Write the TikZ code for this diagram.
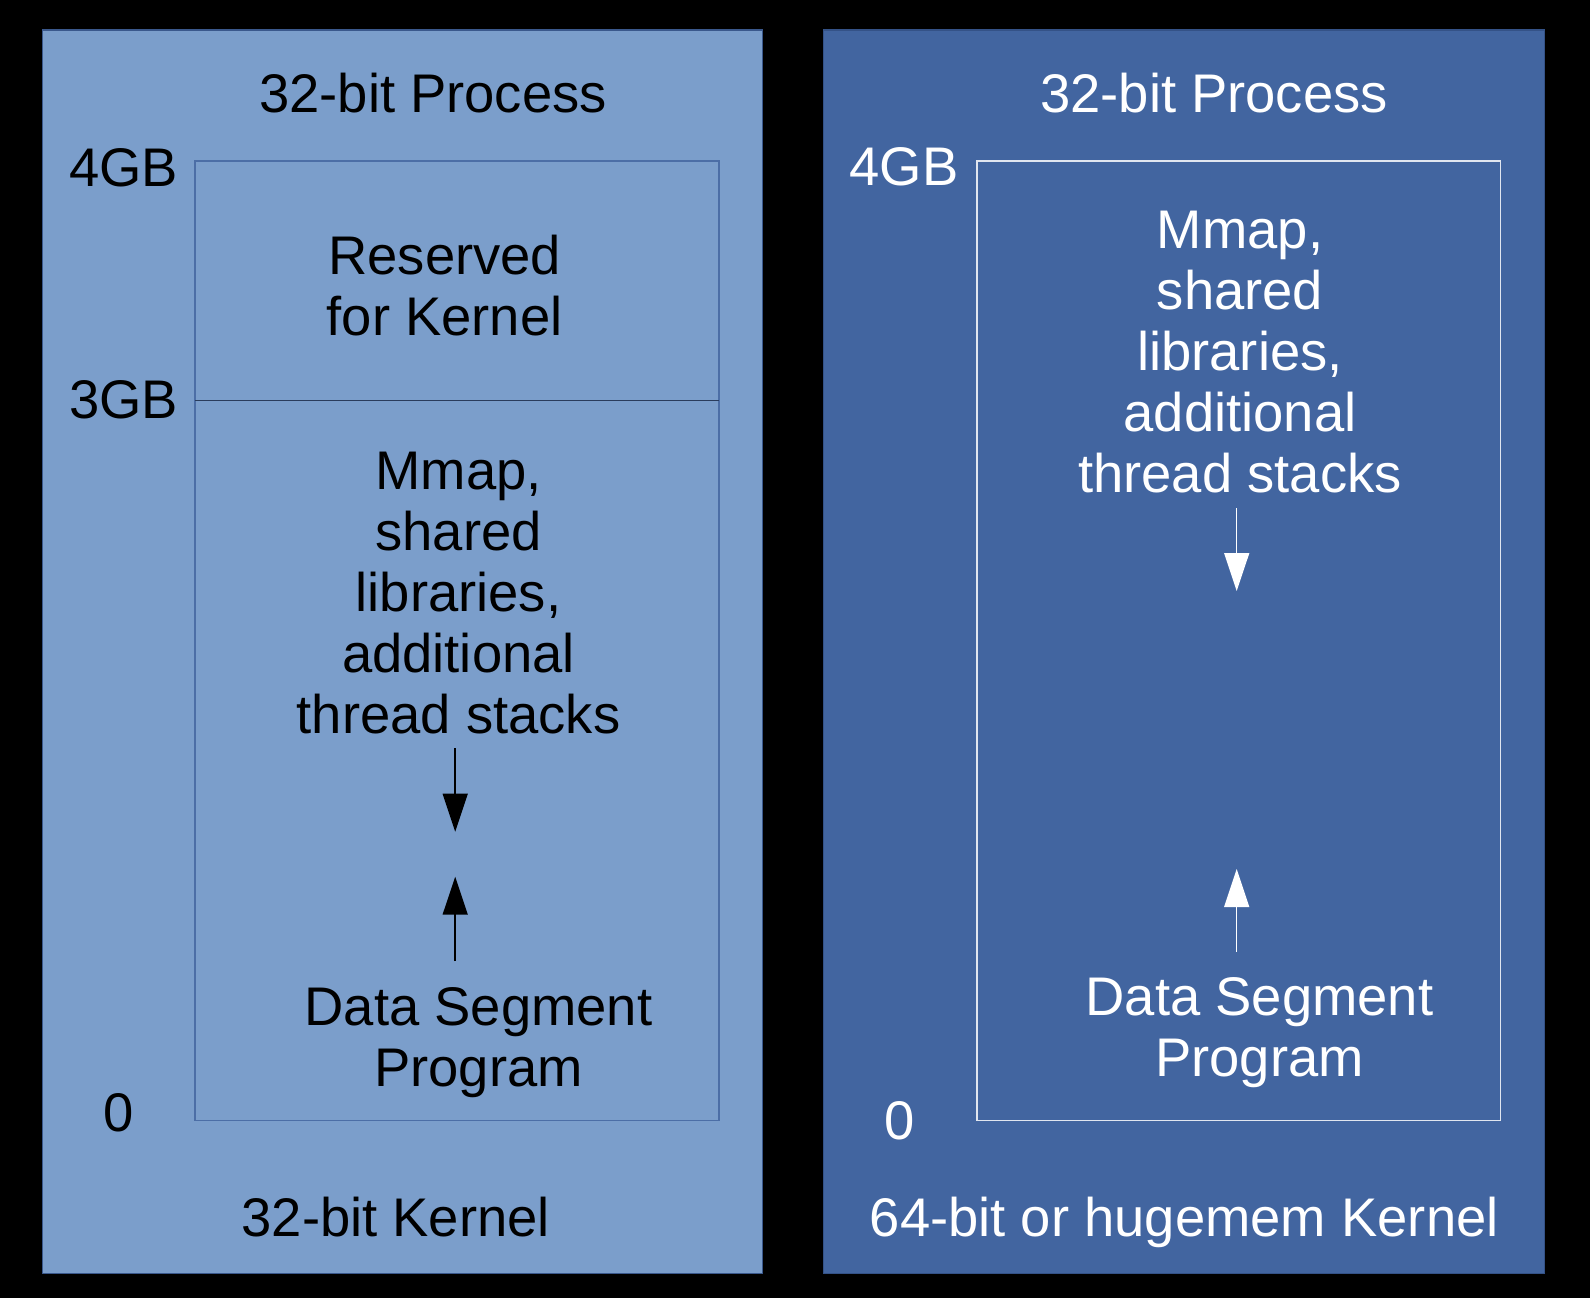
\documentclass[tikz,border=0pt]{standalone}
\usepackage{fontspec}
\setmainfont{Liberation Sans}
\usetikzlibrary{arrows.meta}
\definecolor{lfill}{RGB}{123,158,203}
\definecolor{rfill}{RGB}{66,101,160}
\definecolor{lborder}{RGB}{58,88,140}
\definecolor{rborder}{RGB}{52,82,135}
\definecolor{linner}{RGB}{76,110,166}
\definecolor{rinner}{RGB}{225,230,240}
\definecolor{divline}{RGB}{42,60,92}
\tikzset{
  lbl/.style={inner sep=0pt, outer sep=0pt, font=\fontsize{27.2}{30.5}\selectfont},
  arr/.style={line width=0.75pt, -{Triangle[length=19pt,width=12.5pt]}},
}
\newcommand{\mlines}[1]{\begin{tabular}[t]{@{}c@{}}#1\end{tabular}}
\begin{document}
\begin{tikzpicture}[x=0.5pt,y=-0.5pt]
\path[fill=black,use as bounding box] (0,0) rectangle (1590,1298);
% panels
\path[fill=lfill,draw=lborder,line width=0.75pt] (42.5,30) rectangle (762.7,1273.3);
\path[fill=rfill,draw=rborder,line width=0.75pt] (823.5,30) rectangle (1544.3,1273.3);
% inner boxes
\draw[linner,line width=0.6pt] (195,161) rectangle (719,1120.3);
\draw[divline,line width=0.6pt] (195,400.3) -- (719,400.3);
\draw[rinner,line width=0.6pt] (977,161) rectangle (1500.5,1120.3);
% left texts
\node[lbl,anchor=base] (lproc) at (433,112) {32-bit Process};
\node[lbl,anchor=base east] (l4gb) at (178,186.7) {4GB};
\node[lbl,anchor=base east] (l3gb) at (178,418) {3GB};
\node[lbl,anchor=base] (l0) at (118.3,1131.7) {0};
\node[lbl,anchor=base] (lres) at (444.7,274) {\mlines{Reserved\\for Kernel}};
\node[lbl,anchor=base] (lmmap) at (458.5,489.3) {\mlines{Mmap,\\shared\\libraries,\\additional\\thread stacks}};
\node[lbl,anchor=base] (ldata) at (478.5,1025) {\mlines{Data Segment\\Program}};
\node[lbl,anchor=base] (lkern) at (395.8,1236.7) {32-bit Kernel};
\coordinate (lda) at (455.2,748);
\coordinate (ldb) at (455.2,831.7);
\coordinate (lua) at (455.2,961);
\coordinate (lub) at (455.2,876.7);
\draw[arr,black] (lda) -- (ldb);
\draw[arr,black] (lua) -- (lub);
% right texts
\begin{scope}[white]
\node[lbl,anchor=base,text=white] (rproc) at (1214,112) {32-bit Process};
\node[lbl,anchor=base east,text=white] (r4gb) at (958.5,185.8) {4GB};
\node[lbl,anchor=base,text=white] (r0) at (899.7,1139.3) {0};
\node[lbl,anchor=base,text=white] (rmmap) at (1240,248.3) {\mlines{Mmap,\\shared\\libraries,\\additional\\thread stacks}};
\node[lbl,anchor=base,text=white] (rdata) at (1259.5,1015) {\mlines{Data Segment\\Program}};
\node[lbl,anchor=base,text=white] (rkern) at (1184.3,1236.7) {64-bit or hugemem Kernel};
\coordinate (rda) at (1236.7,508);
\coordinate (rdb) at (1236.7,591);
\coordinate (rua) at (1236.7,952);
\coordinate (rub) at (1236.7,869);
\draw[arr,white] (rda) -- (rdb);
\draw[arr,white] (rua) -- (rub);
\end{scope}
\end{tikzpicture}
\end{document}
